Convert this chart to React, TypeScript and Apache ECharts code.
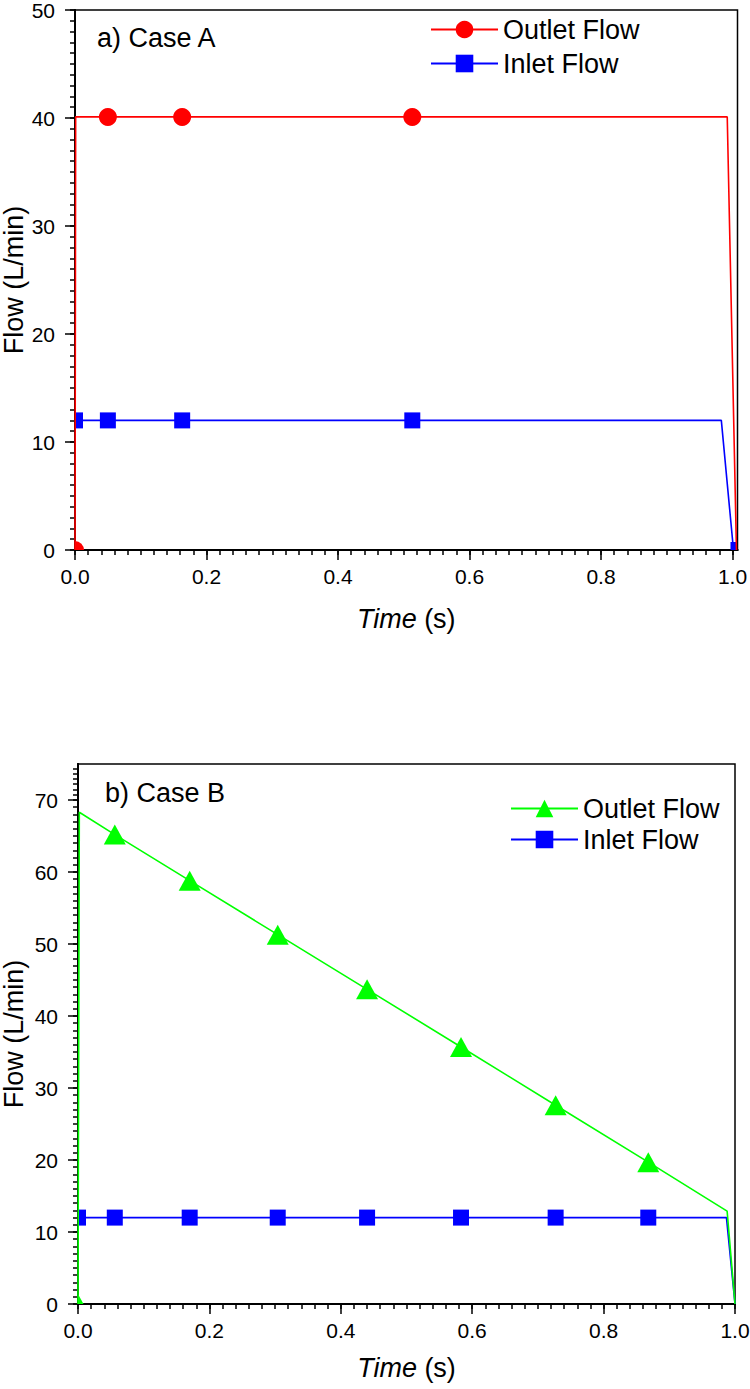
import React, { useEffect, useRef } from 'react';
import * as echarts from 'echarts';

const FONT = '"Liberation Sans", Arial, Helvetica, sans-serif';

// ---------- Case A ----------
const TIME_A_OUTLET = [0, 0.001, 0.05, 0.163, 0.513, 0.992, 1.006];
const FLOW_A_OUTLET = [0, 40.1, 40.1, 40.1, 40.1, 40.1, 0];
const MARK_A_OUTLET = [1, 0, 1, 1, 1, 0, 0];
const TIME_A_INLET = [0, 0.05, 0.163, 0.513, 0.983, 1.0015];
const FLOW_A_INLET = [12, 12, 12, 12, 12, 0];
const MARK_A_INLET = [1, 1, 1, 1, 0, 1];

// ---------- Case B ----------
const TIME_B_OUTLET = [0, 0.002, 0.056, 0.17, 0.304, 0.44, 0.583, 0.727, 0.868, 0.988, 1.0];
const FLOW_B_OUTLET = [0, 68.3, 65.2, 58.8, 51.3, 43.7, 35.7, 27.6, 19.7, 12.9, 0];
const MARK_B_OUTLET = [1, 0, 1, 1, 1, 1, 1, 1, 1, 0, 0];
const TIME_B_INLET = [0, 0.056, 0.17, 0.304, 0.44, 0.583, 0.727, 0.868, 0.987, 1.0];
const FLOW_B_INLET = [12, 12, 12, 12, 12, 12, 12, 12, 12, 0];
const MARK_B_INLET = [1, 1, 1, 1, 1, 1, 1, 1, 0, 0];

// ---------- axes ----------
const X_MAX_A = 1.0076;
const X_MAX_B = 1.0;
const X_TICKS = [0, 0.2, 0.4, 0.6, 0.8, 1.0];
const X_MINOR = Array.from({ length: 51 }, (_, i) => +(i * 0.02).toFixed(2));
const Y_MAX_A = 50;
const Y_TICKS_A = [0, 10, 20, 30, 40, 50];
const Y_MINOR_A = Array.from({ length: 51 }, (_, i) => i);
const Y_MAX_B = 75;
const Y_TICKS_B = [0, 10, 20, 30, 40, 50, 60, 70];
const Y_MINOR_B = [
  ...Array.from({ length: 71 }, (_, i) => i),
  70.74, 71.48, 72.2, 72.95, 73.7, 74.4,
];

const TITLE_A = 'a) Case A';
const TITLE_B = 'b) Case B';
const OUTLET = 'Outlet Flow';
const INLET = 'Inlet Flow';
const X_NAME = '{i|Time} (s)';
const Y_NAME = 'Flow (L/min)';

const RED = '#ff0000';
const BLUE = '#0000ff';
const GREEN = '#00ff00';

// clipped markers sitting on the axes (only the in-plot part is visible)
const QUARTER_CIRCLE = { symbol: 'path://M0 0 L1 0 A1 1 0 0 0 0 -1 Z', symbolSize: 9, symbolOffset: [4.5, -4.5] };
const HALF_SQUARE = { symbol: 'rect', symbolSize: [8, 16], symbolOffset: [4, 0] };
const PART_TRIANGLE = { symbol: 'path://M0 0 L0 -10 L5.5 0 Z', symbolSize: [5.5, 10], symbolOffset: [2.75, -5] };
const SMALL_RECT = { symbol: 'rect', symbolSize: [6, 8], symbolOffset: [0, -4] };

function makeSeries(
  name: string,
  color: string,
  symbol: string,
  size: number | number[],
  times: number[],
  flows: number[],
  marks: number[],
  overrides: Record<number, any>,
  z: number
) {
  return {
    type: 'line',
    name,
    z,
    xAxisIndex: 0,
    yAxisIndex: 0,
    symbol,
    symbolSize: size,
    showSymbol: true,
    showAllSymbol: true,
    lineStyle: { color, width: 1.6 },
    itemStyle: { color },
    emphasis: { disabled: true },
    data: times.map((t, i) => {
      const d: any = { value: [t, flows[i]] };
      if (!marks[i]) d.symbol = 'none';
      if (overrides[i]) Object.assign(d, overrides[i]);
      return d;
    }),
  };
}

function axisText(size: number) {
  return { fontSize: size, fontFamily: FONT, color: '#000' };
}

const BLACK = { color: '#000', width: 1.5 };

function minorAxis(max: number, pos: string, values: number[]) {
  return {
    type: 'value',
    min: 0,
    max,
    position: pos,
    axisLine: { show: true, onZero: false, lineStyle: { color: '#000', width: 2 } },
    axisTick: { show: true, customValues: values, length: 5, lineStyle: BLACK },
    axisLabel: { show: false },
    splitLine: { show: false },
  };
}

function buildOption(cfg: {
  grid: any;
  xMax: number;
  yMax: number;
  yTicks: number[];
  yMinor: number[];
  xNameGap: number;
  yNameGap: number;
  legend: any;
  title: string;
  titlePos: number[];
  series: any[];
}) {
  const xAxes: any[] = [
    {
      type: 'value',
      min: 0,
      max: cfg.xMax,
      interval: 0.2,
      position: 'bottom',
      axisLine: { show: true, onZero: false, lineStyle: { color: '#000', width: 2 } },
      axisTick: { show: true, customValues: X_TICKS, length: 10, lineStyle: BLACK },
      axisLabel: {
        customValues: X_TICKS,
        formatter: (v: number) => v.toFixed(1),
        margin: 16,
        ...axisText(21),
      },
      splitLine: { show: false },
      name: X_NAME,
      nameLocation: 'middle',
      nameGap: cfg.xNameGap,
      nameTextStyle: {
        ...axisText(27),
        rich: { i: { fontStyle: 'italic', fontSize: 27, fontFamily: FONT, color: '#000' } },
      },
    },
    minorAxis(cfg.xMax, 'bottom', X_MINOR),
  ];
  const yAxes: any[] = [
    {
      type: 'value',
      min: 0,
      max: cfg.yMax,
      interval: 10,
      position: 'left',
      axisLine: { show: true, onZero: false, lineStyle: { color: '#000', width: 2 } },
      axisTick: { show: true, customValues: cfg.yTicks, length: 10, lineStyle: BLACK },
      axisLabel: { customValues: cfg.yTicks, margin: 20, ...axisText(21) },
      splitLine: { show: false },
      name: Y_NAME,
      nameLocation: 'middle',
      nameGap: cfg.yNameGap,
      nameMoveOverlap: false,
      nameRotate: 90,
      nameTextStyle: axisText(27),
    },
    minorAxis(cfg.yMax, 'left', cfg.yMinor),
  ];
  return {
    animation: false,
    backgroundColor: '#fff',
    grid: {
      show: true,
      borderColor: '#000',
      borderWidth: 1.5,
      backgroundColor: 'transparent',
      containLabel: false,
      outerBoundsMode: 'none',
      ...cfg.grid,
    },
    xAxis: xAxes,
    yAxis: yAxes,
    legend: {
      orient: 'vertical',
      padding: 0,
      itemWidth: 67,
      itemHeight: 22,
      itemGap: 7,
      selectedMode: false,
      textStyle: axisText(27),
      data: [OUTLET, INLET],
      ...cfg.legend,
    },
    graphic: [
      {
        type: 'text',
        x: cfg.titlePos[0],
        y: cfg.titlePos[1],
        style: { text: cfg.title, fontSize: 27, fontFamily: FONT, fill: '#000', verticalAlign: 'middle' },
      },
    ],
    series: cfg.series,
  };
}

const optionA = buildOption({
  grid: { left: 75, top: 10, width: 662.5, height: 540 },
  xMax: X_MAX_A,
  yMax: Y_MAX_A,
  yTicks: Y_TICKS_A,
  yMinor: Y_MINOR_A,
  xNameGap: 55,
  yNameGap: 48,
  legend: { left: 430, top: 16 },
  title: TITLE_A,
  titlePos: [97, 38],
  series: [
    makeSeries(OUTLET, RED, 'circle', 18, TIME_A_OUTLET, FLOW_A_OUTLET, MARK_A_OUTLET, { 0: QUARTER_CIRCLE }, 3),
    makeSeries(INLET, BLUE, 'rect', 16, TIME_A_INLET, FLOW_A_INLET, MARK_A_INLET, { 0: HALF_SQUARE, 5: SMALL_RECT }, 2),
  ],
});

const optionB = buildOption({
  grid: { left: 78, top: 74, width: 657, height: 540 },
  xMax: X_MAX_B,
  yMax: Y_MAX_B,
  yTicks: Y_TICKS_B,
  yMinor: Y_MINOR_B,
  xNameGap: 50,
  yNameGap: 51,
  legend: { left: 510, top: 105, itemGap: 4 },
  title: TITLE_B,
  titlePos: [105, 103],
  series: [
    makeSeries(OUTLET, GREEN, 'triangle', [22, 20], TIME_B_OUTLET, FLOW_B_OUTLET, MARK_B_OUTLET, { 0: PART_TRIANGLE }, 3),
    makeSeries(INLET, BLUE, 'rect', 16, TIME_B_INLET, FLOW_B_INLET, MARK_B_INLET, { 0: HALF_SQUARE }, 2),
  ],
});

function Chart({ option, top, height }: { option: any; top: number; height: number }) {
  const ref = useRef<HTMLDivElement>(null);
  useEffect(() => {
    if (!ref.current) return;
    const chart = echarts.init(ref.current, undefined, { renderer: 'svg' });
    chart.setOption(option);
    return () => chart.dispose();
  }, [option]);
  return <div ref={ref} style={{ position: 'absolute', left: 0, top, width: 750, height }} />;
}

export default function App() {
  return (
    <div style={{ position: 'absolute', left: 0, top: 0, width: 750, height: 1389, background: '#fff' }}>
      <Chart option={optionA} top={0} height={690} />
      <Chart option={optionB} top={690} height={699} />
    </div>
  );
}
